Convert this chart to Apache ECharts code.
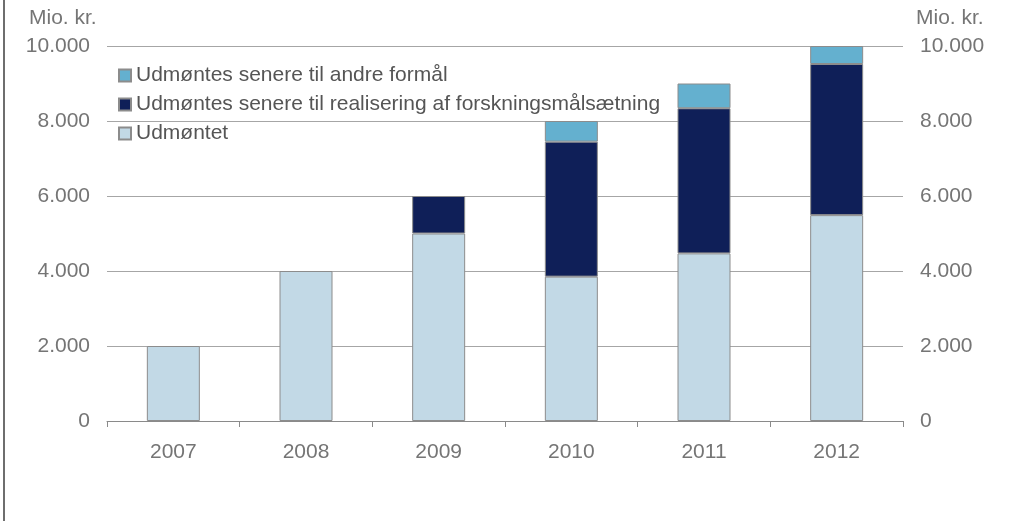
<!DOCTYPE html>
<html>
<head>
<meta charset="utf-8">
<script src="https://cdn.jsdelivr.net/npm/echarts@6/dist/echarts.min.js"></script>
<style>
  html, body { margin: 0; padding: 0; background: #fff; }
  #chart { width: 1009px; height: 521px; }
</style>
</head>
<body>
<div id="chart"></div>
<script>
// data (Mio. kr.), null = no segment
var years = ['2007', '2008', '2009', '2010', '2011', '2012'];
var udmontet = [2000, 4000, 5000, 3850, 4470, 5490];
var realisering = [null, null, 1000, 3600, 3870, 4030];
var andreFormaal = [null, null, null, 550, 660, 480];

var grey = '#757575';
var font = 'Liberation Sans, Arial, sans-serif';
var myChart = echarts.init(document.getElementById('chart'));

var barStyle = function (color) {
    return { color: color, borderColor: '#8c8c8c', borderWidth: 1 };
};
var fmt = function (v) { return v.toLocaleString('da-DK'); };

var option = {
    animation: false,
    textStyle: { fontFamily: font },
    grid: { left: 107, right: 106, top: 46, bottom: 100 },
    legend: {
        orient: 'vertical',
        left: 113,
        top: 60,
        itemWidth: 12,
        itemHeight: 12,
        itemGap: 8,
        icon: 'rect',
        textStyle: { fontSize: 21, color: '#555' },
        data: ['Udmøntes senere til andre formål', 'Udmøntes senere til realisering af forskningsmålsætning', 'Udmøntet']
    },
    xAxis: {
        type: 'category',
        data: years,
        axisLine: { lineStyle: { color: '#8a8a8a', width: 1 } },
        axisTick: { show: true, alignWithLabel: false, length: 6, lineStyle: { color: '#8a8a8a' } },
        axisLabel: { fontSize: 21, color: grey, margin: 21 }
    },
    yAxis: [
        {
            type: 'value', min: 0, max: 10000, interval: 2000,
            axisLine: { show: false }, axisTick: { show: false },
            axisLabel: { fontSize: 21, color: grey, margin: 17, formatter: fmt },
            splitLine: { lineStyle: { color: '#a6a6a6', width: 1 } }
        },
        {
            type: 'value', min: 0, max: 10000, interval: 2000, position: 'right',
            axisLine: { show: false }, axisTick: { show: false },
            axisLabel: { fontSize: 21, color: grey, margin: 17, formatter: fmt },
            splitLine: { show: false }
        }
    ],
    series: [
        { name: 'Udmøntet', type: 'bar', stack: 'a', barWidth: 53, data: udmontet, itemStyle: barStyle('#c2d9e6') },
        { name: 'Udmøntes senere til realisering af forskningsmålsætning', type: 'bar', stack: 'a', barWidth: 53, data: realisering, itemStyle: barStyle('#0f1f58') },
        { name: 'Udmøntes senere til andre formål', type: 'bar', stack: 'a', barWidth: 53, data: andreFormaal, itemStyle: barStyle('#64b0cf') }
    ],
    graphic: [
        { type: 'text', left: 29, top: 8, style: { text: 'Mio. kr.', fontSize: 21, fill: grey, fontFamily: font } },
        { type: 'text', left: 916, top: 8, style: { text: 'Mio. kr.', fontSize: 21, fill: grey, fontFamily: font } },
        { type: 'line', shape: { x1: 4, y1: 0, x2: 4, y2: 521 }, style: { stroke: '#6e6e6e', lineWidth: 2 } }
    ]
};

myChart.setOption(option);
</script>
</body>
</html>
